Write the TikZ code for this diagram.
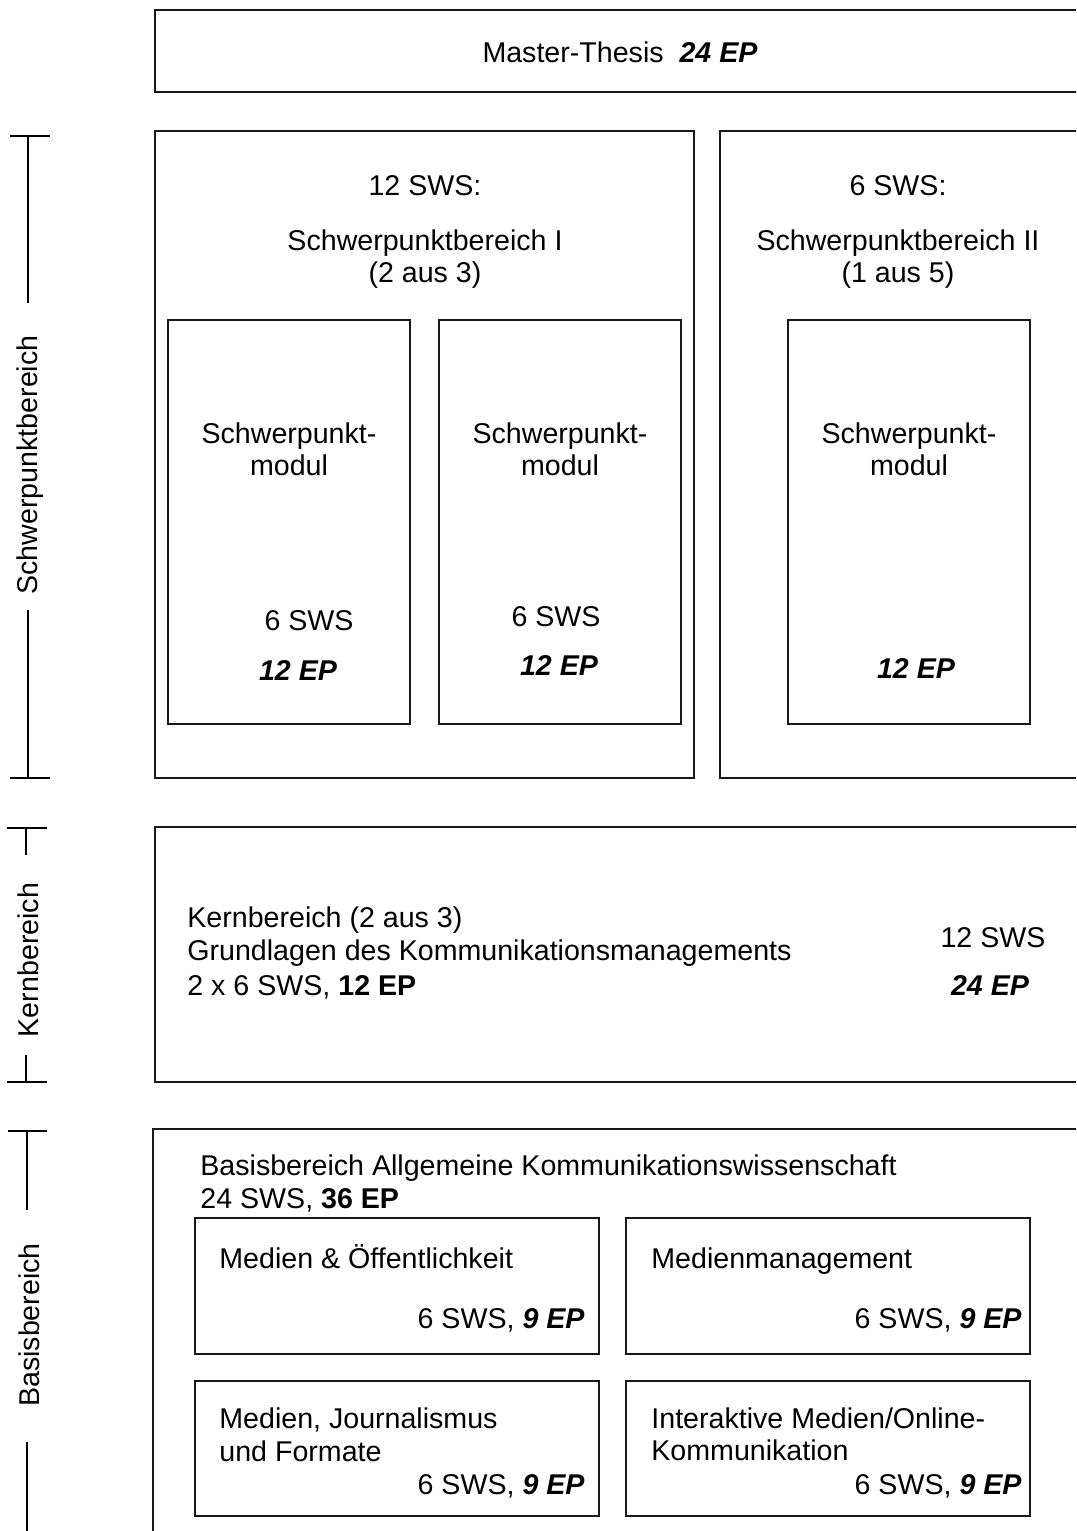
\documentclass[tikz,border=0pt]{standalone}
\usepackage{fontspec}
\setmainfont{Liberation Sans}
\newcommand{\bi}[1]{\textbf{\textit{#1}}}
\begin{document}
\begin{tikzpicture}[x=0.5pt,y=-0.5pt,
  box/.style={draw=black!90,line width=1pt},
  tx/.style={inner sep=0pt,font=\fontsize{14.3}{16.5}\selectfont,anchor=base},
  txl/.style={tx,anchor=base west},
  txr/.style={tx,anchor=base east},
  brk/.style={draw=black,line width=0.8pt},
  side/.style={inner sep=0pt,font=\fontsize{14.3}{16.5}\selectfont,rotate=90}]
\useasboundingbox (0,0) rectangle (1076,1531);
\clip (0,0) rectangle (1076,1531);
% boxes
\draw[box] (155,10) rectangle (1090,92);
\draw[box] (155,131) rectangle (694,778);
\draw[box] (720,131) rectangle (1090,778);
\draw[box] (168,320) rectangle (410,724);
\draw[box] (439,320) rectangle (681,724);
\draw[box] (788,320) rectangle (1030,724);
\draw[box] (155,827) rectangle (1090,1082);
\draw[box] (153,1129) rectangle (1090,1545);
\draw[box] (195,1218) rectangle (599,1354);
\draw[box] (626,1218) rectangle (1030,1354);
\draw[box] (195,1381) rectangle (599,1516);
\draw[box] (626,1381) rectangle (1030,1516);
% texts
\node[tx] (mt) at (620,62) {Master-Thesis~~\bi{24 EP}};
\node[tx] (s1a) at (425,195) {12 SWS:};
\node[tx] (s1b) at (425,250) {Schwerpunktbereich I};
\node[tx] (s1c) at (425,282) {(2 aus 3)};
\node[tx] (s2a) at (898,195) {6 SWS:};
\node[tx] (s2b) at (898,250) {Schwerpunktbereich II};
\node[tx] (s2c) at (898,282) {(1 aus 5)};
\node[tx] (m1a) at (289,443) {Schwerpunkt-};
\node[tx] (m1b) at (289,475) {modul};
\node[tx] (m1c) at (309,630) {6 SWS};
\node[tx] (m1d) at (298,680) {\bi{12 EP}};
\node[tx] (m2a) at (560,443) {Schwerpunkt-};
\node[tx] (m2b) at (560,475) {modul};
\node[tx] (m2c) at (556,626) {6 SWS};
\node[tx] (m2d) at (559,675) {\bi{12 EP}};
\node[tx] (m3a) at (909,443) {Schwerpunkt-};
\node[tx] (m3b) at (909,475) {modul};
\node[tx] (m3d) at (916,678) {\bi{12 EP}};
\node[txl] (k1) at (187,927) {Kernbereich (2 aus 3)};
\node[txl] (k2) at (187,960) {Grundlagen des Kommunikationsmanagements};
\node[txl] (k3) at (187,995) {2 x 6 SWS, \textbf{12 EP}};
\node[tx] (k4) at (993,947) {12 SWS};
\node[tx] (k5) at (990,995) {\bi{24 EP}};
\node[txl] (b1) at (200,1175) {Basisbereich Allgemeine Kommunikationswissenschaft};
\node[txl] (b2) at (200,1208) {24 SWS, \textbf{36 EP}};
\node[txl] (c1) at (219,1268) {Medien \& Öffentlichkeit};
\node[txr] (c1v) at (585,1328) {6 SWS, \bi{9 EP}};
\node[txl] (c2) at (651,1268) {Medienmanagement};
\node[txr] (c2v) at (1022,1328) {6 SWS, \bi{9 EP}};
\node[txl] (c3a) at (219,1428) {Medien, Journalismus};
\node[txl] (c3b) at (219,1461) {und Formate};
\node[txr] (c3v) at (585,1494) {6 SWS, \bi{9 EP}};
\node[txl] (c4a) at (651,1428) {Interaktive Medien/Online-};
\node[txl] (c4b) at (651,1460) {Kommunikation};
\node[txr] (c4v) at (1022,1494) {6 SWS, \bi{9 EP}};
% side labels with brackets
\node[side] (ls) at (30,465) {Schwerpunktbereich};
\coordinate (s1) at (28,136);
\coordinate (s2) at (28,778);
\draw[brk] (10,136) -- (50,136);
\draw[brk] (s1) -- (28,303);
\draw[brk] (28,610) -- (s2);
\draw[brk] (10,778) -- (50,778);
\node[side] (lk) at (28,960) {Kernbereich};
\coordinate (kk1) at (26,828);
\coordinate (kk2) at (26,1082);
\draw[brk] (7,828) -- (47,828);
\draw[brk] (kk1) -- (26,855);
\draw[brk] (26,1055) -- (kk2);
\draw[brk] (7,1082) -- (47,1082);
\node[side] (lb) at (29,1325) {Basisbereich};
\coordinate (bb1) at (27,1131);
\coordinate (bb2) at (27,1531);
\draw[brk] (8,1131) -- (47,1131);
\draw[brk] (bb1) -- (27,1210);
\draw[brk] (27,1442) -- (bb2);
\end{tikzpicture}
\end{document}
